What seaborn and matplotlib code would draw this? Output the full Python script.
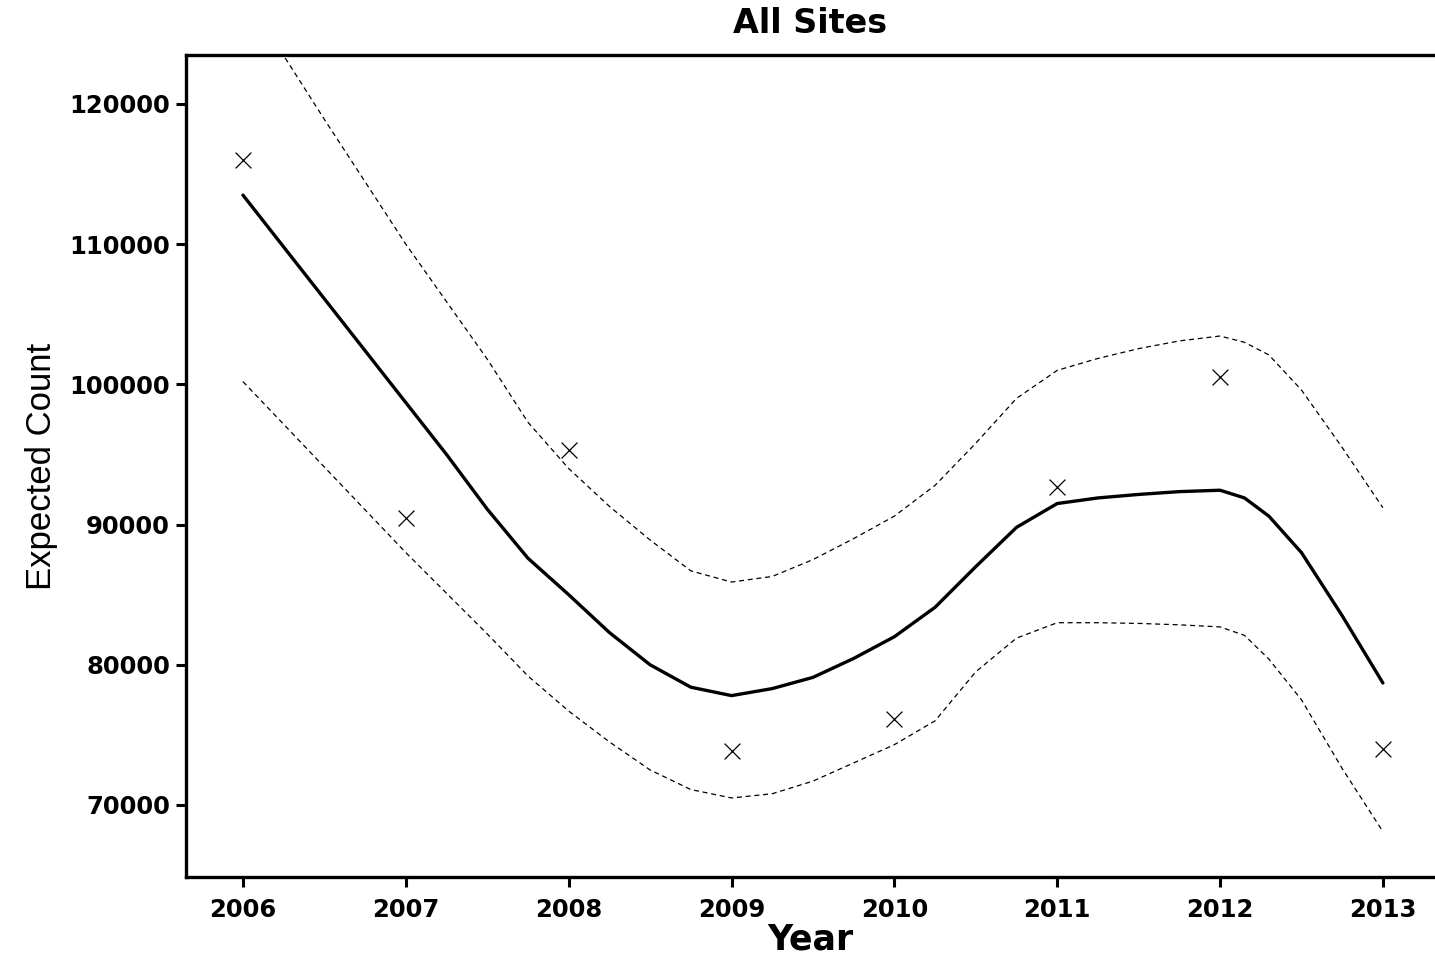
import numpy as np
import pandas as pd
import matplotlib
matplotlib.use("Agg")
import matplotlib.pyplot as plt
import seaborn as sns

# observed yearly counts
obs_years = [2006, 2007, 2008, 2009, 2010, 2011, 2012, 2013]
obs_counts = [116000, 90500, 95300, 73850, 76100, 92700, 100500, 74000]

# fitted trend with upper / lower bands
fit_years = [2006, 2006.5, 2007, 2007.25, 2007.5, 2007.75, 2008, 2008.25, 2008.5,
             2008.75, 2009, 2009.25, 2009.5, 2009.75, 2010, 2010.25, 2010.5,
             2010.75, 2011, 2011.25, 2011.5, 2011.75, 2012, 2012.15, 2012.3,
             2012.5, 2012.75, 2013]
fit_mid = [113500, 106100, 98700, 95000, 91100, 87600, 85000, 82300, 80000,
           78400, 77800, 78300, 79100, 80450, 82000, 84100, 87000,
           89800, 91500, 91900, 92150, 92350, 92450, 91900, 90600,
           88000, 83500, 78700]
fit_upper = [128000, 118900, 110000, 105900, 101800, 97300, 94000, 91300, 88900,
             86700, 85900, 86300, 87500, 89000, 90600, 92800, 95800,
             99000, 101000, 101850, 102550, 103100, 103450, 103000, 102100,
             99600, 95500, 91200]
fit_lower = [100200, 94100, 88000, 85100, 82200, 79200, 76700, 74500, 72500,
             71100, 70500, 70800, 71700, 73000, 74300, 76000, 79500,
             81900, 83000, 83000, 82950, 82850, 82700, 82100, 80400,
             77500, 72600, 68100]

sns.set_style("ticks")
plt.rcParams['font.family'] = ['DejaVu Sans']
plt.rcParams['text.color'] = 'black'
plt.rcParams['axes.labelcolor'] = 'black'
plt.rcParams['xtick.color'] = 'black'
plt.rcParams['ytick.color'] = 'black'

fig = plt.figure(figsize=(14.35, 9.58), dpi=100)
ax = fig.add_axes([0.1296, 0.0846, 0.8704, 0.858])

fit = pd.DataFrame({"year": fit_years, "mid": fit_mid,
                    "upper": fit_upper, "lower": fit_lower})
obs = pd.DataFrame({"year": obs_years, "count": obs_counts})

sns.lineplot(data=fit, x="year", y="mid", ax=ax, color="black", lw=2.4)
for col in ["upper", "lower"]:
    sns.lineplot(data=fit, x="year", y=col, ax=ax, color="black", lw=0.9,
                 dashes=False, linestyle=(0, (4, 3)))
sns.scatterplot(data=obs, x="year", y="count", ax=ax, marker="x", s=130,
                color="black", linewidth=0.9)

ax.set_xlim(2005.65, 2013.32)
ax.set_ylim(64865, 123495)
ax.set_xticks(obs_years)
ax.set_yticks([70000, 80000, 90000, 100000, 110000, 120000])
ax.tick_params(axis="both", length=7.5, width=2.2, labelsize=17.5)
ax.tick_params(axis="x", pad=8)
ax.tick_params(axis="y", pad=4)
for lab in ax.get_xticklabels() + ax.get_yticklabels():
    lab.set_fontweight("bold")

for s in ["left", "bottom", "top"]:
    ax.spines[s].set_linewidth(2.4)
    ax.spines[s].set_color("black")
ax.spines["right"].set_visible(False)

ax.set_title("All Sites", fontsize=24, fontweight="bold", pad=16)
ax.set_xlabel("Year", fontsize=25, fontweight="bold", labelpad=0)
ax.set_ylabel("Expected Count", fontsize=25,
              family=["Liberation Sans Narrow", "Liberation Sans"], labelpad=8)

fig.savefig("out.png", dpi=100)
